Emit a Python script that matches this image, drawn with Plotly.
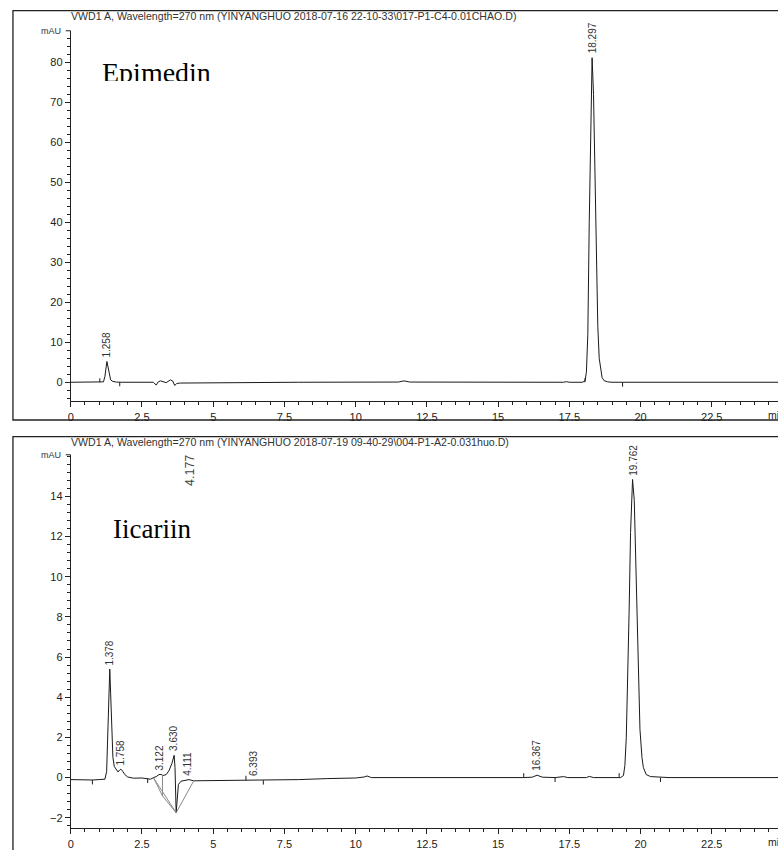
import plotly.graph_objects as go

W, H = 778, 850

# ---------------- data: top chromatogram (Epimedin) ----------------
top_time = [0.0, 0.7, 1.0, 1.15, 1.20, 1.24, 1.27, 1.31, 1.35, 1.40, 1.48, 1.6, 1.8,
            2.9, 3.0, 3.07, 3.15, 3.25, 3.35, 3.5, 3.58, 3.65, 3.72, 3.85, 5.0, 6.5, 8.0,
            11.5, 11.7, 11.9, 15.0, 17.3, 17.4, 17.5, 17.95,
            18.05, 18.10, 18.15, 18.20, 18.25, 18.30, 18.35, 18.40, 18.45, 18.50, 18.55,
            18.60, 18.65, 18.72, 18.85, 19.0, 25.0]
top_mau = [0.0, -0.05, 0.0, 0.1, 1.5, 4.0, 5.2, 3.8, 1.8, 0.6, 0.2, 0.05, 0.0,
           0.0, -0.7, 0.1, 0.35, 0.05, -0.1, 0.6, 0.3, -0.8, -0.3, -0.2, -0.1, -0.05, 0.0,
           0.05, 0.35, 0.05, 0.0, 0.0, 0.15, 0.0, 0.0,
           0.3, 2.5, 12.0, 40.0, 68.0, 81.2, 72.0, 50.0, 30.0, 14.0, 6.0,
           2.8, 1.2, 0.4, 0.1, 0.0, 0.0]
top_peak_labels = ["1.258", "18.297"]
top_peak_heights = [5.2, 81.2]
top_mark_time = [1.02, 1.72, 18.05, 19.37]
top_mark_dir = [1, -1, 1, -1]
top_mark_base = [0.0, 0.0, 0.0, -0.1]

# ---------------- data: bottom chromatogram (Iicariin) ----------------
bot_time = [0.0, 0.5, 0.76, 1.0, 1.2, 1.26, 1.30, 1.34, 1.37, 1.40, 1.44, 1.48, 1.53,
            1.60, 1.66, 1.72, 1.76, 1.82, 1.90, 2.00, 2.20, 2.50, 2.70, 2.80, 2.91,
            3.00, 3.10, 3.17, 3.24, 3.35, 3.45, 3.55, 3.63, 3.66, 3.70, 3.74, 3.78,
            3.87, 4.02, 4.15, 4.31, 5.0, 6.0, 6.39, 6.8, 8.0, 9.0, 10.0, 10.3, 10.4,
            10.55, 11.0, 12.5, 14.0, 15.9, 16.2, 16.37, 16.55, 17.0, 17.3, 17.45,
            18.1, 18.2, 18.35, 19.3, 19.40, 19.45, 19.50, 19.55, 19.60, 19.65, 19.72,
            19.78, 19.83, 19.88, 19.93, 19.98, 20.05, 20.10, 20.20, 20.35, 21.0, 25.0]
bot_mau = [-0.1, -0.12, -0.12, -0.1, -0.08, 0.3, 2.0, 4.3, 5.4, 4.2, 2.2, 1.0, 0.55,
           0.38, 0.28, 0.38, 0.42, 0.32, 0.15, 0.03, -0.03, -0.02, -0.05, -0.08, 0.0,
           0.05, 0.15, 0.16, 0.10, 0.15, 0.35, 0.7, 1.11, 0.5, -1.75, -0.9, -0.34,
           -0.18, -0.13, -0.10, -0.16, -0.15, -0.15, -0.12, -0.15, -0.1, -0.05, -0.02, 0.03, 0.08,
           0.0, 0.0, 0.0, -0.02, 0.0, 0.02, 0.12, 0.02, 0.0, 0.05, 0.0,
           0.0, 0.06, 0.0, 0.0, 0.1, 0.6, 2.0, 4.5, 8.3, 12.2, 14.84,
           13.8, 11.0, 7.4, 4.6, 2.4, 1.0, 0.5, 0.15, 0.05, 0.0, 0.0]
bot_peak_labels = ["1.378", "1.758", "3.122", "3.630", "4.111", "6.393", "16.367", "19.762"]
bot_peak_heights = [5.4, 0.42, 0.16, 1.11, -0.12, -0.10, 0.12, 14.84]
bot_mark_time = [0.76, 2.70, 6.15, 6.76, 15.9, 17.0, 19.25, 20.7]
bot_mark_dir = [-1, -1, 1, -1, 1, -1, 1, -1]
bot_mark_base = [-0.12, -0.05, -0.13, -0.13, 0.0, 0.0, 0.0, 0.0]
# integration baselines (gray)
base_seg_time = [[2.91, 3.22, 3.70, 4.31], [2.91, 3.70], [3.22, 3.22]]
base_seg_mau = [[-0.02, -0.91, -1.75, -0.18], [-0.02, -1.75], [0.12, -0.91]]
extra_label = "4.177"
extra_label_pos = (4.177, 15.3)

x_ticks = [0, 2.5, 5, 7.5, 10, 12.5, 15, 17.5, 20, 22.5]
x_tick_text = ["0", "2.5", "5", "7.5", "10", "12.5", "15", "17.5", "20", "22.5"]
top_y_ticks = [0, 10, 20, 30, 40, 50, 60, 70, 80]
bot_y_ticks = [-2, 0, 2, 4, 6, 8, 10, 12, 14]

header_top = r"VWD1 A, Wavelength=270 nm (YINYANGHUO 2018-07-16 22-10-33\017-P1-C4-0.01CHAO.D)"
header_bot = r"VWD1 A, Wavelength=270 nm (YINYANGHUO 2018-07-19 09-40-29\004-P1-A2-0.031huo.D)"

# ---------------- figure ----------------
def px_x(p):
    return p / W

def px_y(p):
    return (H - p) / H

LINE = "#1a1a1a"
fig = go.Figure()

fig.add_trace(go.Scatter(x=top_time, y=top_mau, xaxis="x", yaxis="y", mode="lines",
                         line=dict(color=LINE, width=1), hoverinfo="skip"))
fig.add_trace(go.Scatter(x=bot_time, y=bot_mau, xaxis="x2", yaxis="y2", mode="lines",
                         line=dict(color=LINE, width=1), hoverinfo="skip"))

# integration baselines
for st, sm in zip(base_seg_time, base_seg_mau):
    fig.add_trace(go.Scatter(x=st, y=sm, xaxis="x2", yaxis="y2", mode="lines",
                             line=dict(color="#8a8a8a", width=1), hoverinfo="skip"))

# integration event marks
def mark_xy(times, dirs, bases, length):
    xs, ys = [], []
    for t, d, b in zip(times, dirs, bases):
        xs += [t, t, None]
        ys += [b, b + d * length, None]
    return xs, ys

mx, my = mark_xy(top_mark_time, top_mark_dir, top_mark_base, 1.0)
fig.add_trace(go.Scatter(x=mx, y=my, xaxis="x", yaxis="y", mode="lines",
                         line=dict(color=LINE, width=1), hoverinfo="skip"))
mx, my = mark_xy(bot_mark_time, bot_mark_dir, bot_mark_base, 0.22)
fig.add_trace(go.Scatter(x=mx, y=my, xaxis="x2", yaxis="y2", mode="lines",
                         line=dict(color=LINE, width=1), hoverinfo="skip"))

axis_common = dict(showline=True, linecolor="#222", linewidth=1, showgrid=False,
                   zeroline=False, ticks="outside", ticklen=5, tickcolor="#222",
                   tickfont=dict(family="Liberation Sans, Arial", size=11, color="#222"))

x_dom = [px_x(68), 1.0]
x_max = (W - 68) / 28.6

fig.update_layout(
    width=W, height=H, autosize=False,
    margin=dict(l=0, r=0, t=0, b=0),
    paper_bgcolor="white", plot_bgcolor="white",
    showlegend=False,
    xaxis=dict(domain=x_dom, range=[0, x_max], anchor="y",
               tickvals=x_ticks, ticktext=x_tick_text,
               minor=dict(dtick=0.5, tick0=0, ticklen=3, ticks="outside", tickcolor="#222"),
               **axis_common),
    yaxis=dict(domain=[px_y(404.3), px_y(31)], range=[-4.8, 87.95], anchor="x",
               tickvals=top_y_ticks,
               minor=dict(dtick=2, tick0=0, ticklen=3, ticks="outside", tickcolor="#222"),
               **axis_common),
    xaxis2=dict(domain=x_dom, range=[0, x_max], anchor="y2",
                tickvals=x_ticks, ticktext=x_tick_text,
                minor=dict(dtick=0.5, tick0=0, ticklen=3, ticks="outside", tickcolor="#222"),
                **axis_common),
    yaxis2=dict(domain=[px_y(834.3), px_y(458)], range=[-2.53, 16.07], anchor="x2",
                tickvals=bot_y_ticks,
                minor=dict(dtick=0.4, tick0=0, ticklen=3, ticks="outside", tickcolor="#222"),
                **axis_common),
)

shapes = [
    # panel frames
    dict(type="rect", xref="paper", yref="paper", x0=px_x(10), x1=1.1,
         y0=px_y(423), y1=px_y(10.7), line=dict(color="#222", width=1.3)),
    dict(type="rect", xref="paper", yref="paper", x0=px_x(10), x1=1.1,
         y0=-0.1, y1=px_y(439.7), line=dict(color="#222", width=1.3)),
    # axis top brackets
    dict(type="line", xref="paper", yref="paper", x0=px_x(63), x1=px_x(68),
         y0=px_y(31), y1=px_y(31), line=dict(color="#222", width=1)),
    dict(type="line", xref="paper", yref="paper", x0=px_x(63), x1=px_x(68),
         y0=px_y(458), y1=px_y(458), line=dict(color="#222", width=1)),
]
fig.update_layout(shapes=shapes)

ann = []
small = dict(family="Liberation Sans, Arial", size=10, color="#333")
for txt, ya in ((header_top, 16.5), (header_bot, 445)):
    ann.append(dict(text=txt, xref="paper", yref="paper", x=px_x(66), y=px_y(ya),
                    xanchor="left", yanchor="middle", showarrow=False,
                    font=dict(family="Liberation Sans, Arial", size=10.6, color="#333")))
for ya in (31, 458):
    ann.append(dict(text="mAU", xref="paper", yref="paper", x=px_x(60), y=px_y(ya),
                    xanchor="right", yanchor="middle", showarrow=False,
                    font=dict(family="Liberation Sans, Arial", size=9, color="#333")))
for ya in (418, 848):
    ann.append(dict(text="min", xref="paper", yref="paper", x=px_x(766), y=px_y(ya),
                    xanchor="left", yanchor="middle", showarrow=False,
                    font=dict(family="Liberation Sans, Arial", size=10.5, color="#222")))

for lab, h in zip(top_peak_labels, top_peak_heights):
    ann.append(dict(text=lab, x=float(lab), y=h, xref="x", yref="y", textangle=-90,
                    xanchor="center", yanchor="bottom", yshift=2, showarrow=False,
                    font=small))
for lab, h in zip(bot_peak_labels, bot_peak_heights):
    ann.append(dict(text=lab, x=float(lab), y=h, xref="x2", yref="y2", textangle=-90,
                    xanchor="center", yanchor="bottom", yshift=2, showarrow=False,
                    font=small))
ann.append(dict(text=extra_label, x=extra_label_pos[0], y=extra_label_pos[1],
                xref="x2", yref="y2", textangle=-90, xanchor="center", yanchor="middle",
                showarrow=False, font=dict(family="Liberation Sans, Arial", size=12.5, color="#444")))

# sample names
ann.append(dict(text="Epimedin", xref="paper", yref="paper", x=px_x(97), y=px_y(55),
                xanchor="left", yanchor="top", showarrow=False, height=24, valign="top",
                font=dict(family="Liberation Serif, Times New Roman", size=28, color="black")))
ann.append(dict(text="Iicariin", xref="paper", yref="paper", x=px_x(108), y=px_y(516),
                xanchor="left", yanchor="top", showarrow=False,
                font=dict(family="Liberation Serif, Times New Roman", size=27, color="black")))
fig.update_layout(annotations=ann)

fig.write_html("out.html", config={"displayModeBar": False},
               post_script="document.body.style.margin='0';")
